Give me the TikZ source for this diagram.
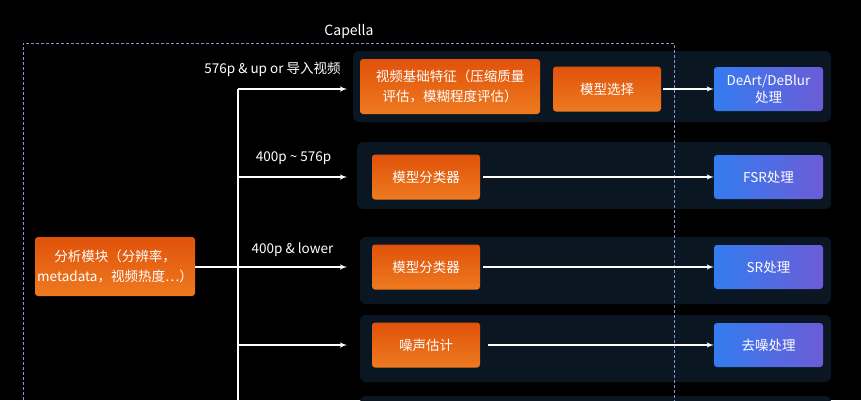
\documentclass[tikz,border=0pt]{standalone}
\usepackage{fontspec}
\setmainfont{Noto Sans CJK SC}
\usetikzlibrary{arrows}
\definecolor{panelbg}{RGB}{11,22,35}
\definecolor{orangetop}{RGB}{224,82,10}
\definecolor{orangebot}{RGB}{238,122,32}
\definecolor{blueleft}{RGB}{52,124,240}
\definecolor{blueright}{RGB}{108,92,214}
\definecolor{dashblue}{RGB}{125,155,205}
\tikzstyle{panel} = [rectangle, rounded corners=6pt, fill=panelbg, inner sep=0pt]
\tikzstyle{obox} = [rectangle, rounded corners=3pt, top color=orangetop,
bottom color=orangebot, text=white, align=center, inner sep=0pt,
font=\fontsize{13.5}{19.5}\selectfont]
\tikzstyle{bbox} = [rectangle, rounded corners=3pt, left color=blueleft,
right color=blueright, text=white, align=center, inner sep=0pt,
minimum width=109pt, minimum height=44pt, font=\fontsize{13.5}{17.5}\selectfont]
\tikzstyle{line} = [draw, -latex', white, line width=1.4pt]
\tikzstyle{lbl} = [text=white, font=\fontsize{13.5}{16}\selectfont]

\begin{document}
\begin{tikzpicture}[x=1pt, y=-1pt]
    \useasboundingbox (0,0) rectangle (861,400);
    \fill[black] (0,0) rectangle (861,400);
    \clip (0,0) rectangle (861,400);
    %% Panels
    \node[panel, minimum width=478pt, minimum height=71pt] (P1) at (592,86.5) {};
    \node[panel, minimum width=474pt, minimum height=67pt] (P2) at (594,175.5) {};
    \node[panel, minimum width=471pt, minimum height=67pt] (P3) at (595.5,270.5) {};
    \node[panel, minimum width=471pt, minimum height=67pt] (P4) at (595.5,348.5) {};
    \node[panel, minimum width=471pt, minimum height=67pt] (P5) at (595.5,429.5) {};
    %% Capella
    \node[lbl, font=\fontsize{14}{16}\selectfont] (cap) at (349,32) {Capella};
    \draw[dashblue, line width=1pt, dash pattern=on 3pt off 2pt]
        (23,405) -- (23,43) -- (674,43) -- (674,405);
    %% Boxes
    \node[obox, minimum width=160pt, minimum height=59pt] (ana) at (115,266.5)
        {分析模块（分辨率，\\metadata，视频热度…）};
    \node[obox, minimum width=180pt, minimum height=55pt] (feat) at (450,86.5)
        {视频基础特征（压缩质量\\评估，模糊程度评估）};
    \node[obox, minimum width=108pt, minimum height=45pt] (sel) at (607,89) {模型选择};
    \node[bbox] (deart) at (768.5,89) {DeArt/DeBlur\\处理};
    \node[obox, minimum width=108pt, minimum height=45pt] (cls1) at (426,177) {模型分类器};
    \node[bbox] (fsr) at (768.5,177) {FSR处理};
    \node[obox, minimum width=108pt, minimum height=45pt] (cls2) at (426,267) {模型分类器};
    \node[bbox] (sr) at (768.5,267) {SR处理};
    \node[obox, minimum width=108pt, minimum height=45pt] (noise) at (426,345) {噪声估计};
    \node[bbox] (dn) at (768.5,345) {去噪处理};
    %% Trunk
    \coordinate (t1) at (238,89);
    \coordinate (t2) at (238,177);
    \coordinate (t4) at (238,345);
    \coordinate (tend) at (238,405);
    \coordinate (e1) at (347,89);
    \coordinate (e2) at (347,177);
    \coordinate (e3) at (347,267);
    \coordinate (e4) at (347,345);
    \draw[white, line width=1.4pt] (t1) -- (tend);
    \path [line] (t1) to (e1);
    \path [line] (t2) to (e2);
    \path [line] (ana.east |- e3) to (e3);
    \path [line] (t4) to (e4);
    %% Labels
    \node[lbl] (l1) at (272.5,69) {576p \& up or 导入视频};
    \node[lbl] (l2) at (293.5,158) {400p \textasciitilde{} 576p};
    \node[lbl] (l3) at (292.5,250) {400p \& lower};
    %% Flows
    \path [line, shorten <=2pt] (sel.east) to (deart.west);
    \path [line, shorten <=3pt] (cls1.east) to (fsr.west);
    \path [line, shorten <=3pt] (cls2.east) to (sr.west);
    \path [line, shorten <=8pt] (noise.east) to (dn.west);
\end{tikzpicture}
\end{document}
